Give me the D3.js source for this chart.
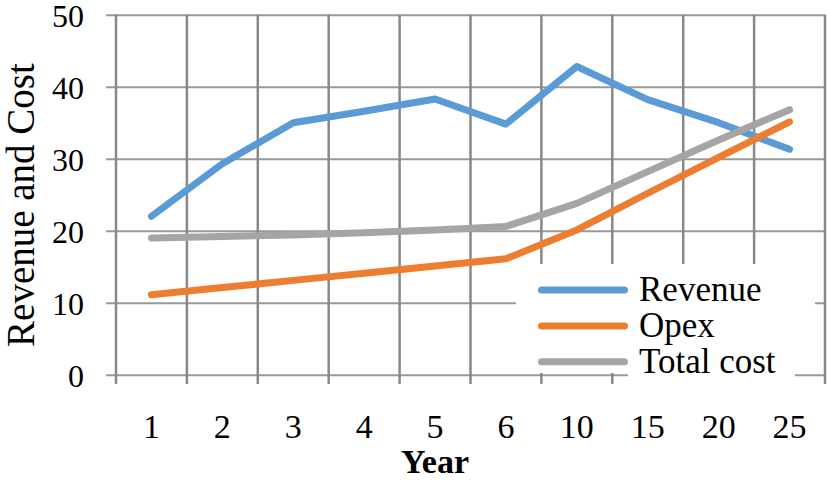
<!DOCTYPE html>
<html>
<head>
<meta charset="utf-8">
<script src="https://d3js.org/d3.v7.min.js"></script>
<style>
body { margin:0; background:#fff; }
text { font-family: "Liberation Serif", "Times New Roman", serif; fill:#000; }
</style>
</head>
<body>
<script>
// data
var years = ["1","2","3","4","5","6","10","15","20","25"];
var revenue = [22.0, 29.3, 35.0, 36.6, 38.3, 34.8, 42.8, 38.2, 35.0, 31.3];
var opex = [11.1, 12.1, 13.1, 14.1, 15.1, 16.1, 20.1, 25.2, 30.2, 35.1];
var totalCost = [19.0, 19.2, 19.4, 19.7, 20.1, 20.6, 23.8, 28.2, 32.6, 36.8];
var yTicks = [0, 10, 20, 30, 40, 50];
var seriesNames = ["Revenue", "Opex", "Total cost"];
var colors = ["#5b9bd5", "#ed7d31", "#a5a5a5"];

var width = 827, height = 487;
var svg = d3.select("body").append("svg")
    .attr("width", width)
    .attr("height", height);

var x = d3.scaleBand().domain(years).range([116, 825]).padding(0);
var y = d3.scaleLinear().domain([0, 50]).range([374.7, 14.7]);

// horizontal grid + y labels
var yAxis = d3.axisLeft(y).tickValues(yTicks).tickSize(-(825 - 106)).tickPadding(22);
var gy = svg.append("g").attr("transform", "translate(106,0)").call(yAxis);
gy.select(".domain").remove();
gy.selectAll(".tick line").attr("stroke", "#999").attr("stroke-width", 2);
gy.selectAll(".tick text")
    .attr("font-size", 32)
    .attr("font-family", "Liberation Serif")
    .attr("fill", "#000")
    .attr("dy", "0.36em");

// vertical grid at band edges
var edges = years.map(function(d) { return x(d); }).concat([x.range()[1]]);
svg.append("g").selectAll("line")
    .data(edges)
    .enter().append("line")
    .attr("x1", function(d) { return d; })
    .attr("x2", function(d) { return d; })
    .attr("y1", y(50))
    .attr("y2", 384)
    .attr("stroke", "#888")
    .attr("stroke-width", 2.5);

// x labels
svg.append("g").selectAll("text")
    .data(years)
    .enter().append("text")
    .attr("x", function(d) { return x(d) + x.bandwidth() / 2; })
    .attr("y", 438)
    .attr("text-anchor", "middle")
    .attr("font-size", 34)
    .text(function(d) { return d; });

// lines
var line = d3.line()
    .x(function(d, i) { return x(years[i]) + x.bandwidth() / 2; })
    .y(function(d) { return y(d); });

[revenue, opex, totalCost].forEach(function(s, k) {
    svg.append("path")
        .datum(s)
        .attr("fill", "none")
        .attr("stroke", colors[k])
        .attr("stroke-width", 7)
        .attr("stroke-linecap", "round")
        .attr("stroke-linejoin", "round")
        .attr("d", line);
});

// legend
var lg = svg.append("g");
lg.append("rect").attr("x", 516).attr("y", 264).attr("width", 299).attr("height", 109).attr("fill", "#fff");
lg.append("rect").attr("x", 628).attr("y", 264).attr("width", 167).attr("height", 122).attr("fill", "#fff");
var ly = [290, 326, 361.7];
seriesNames.forEach(function(n, k) {
    lg.append("line")
        .attr("x1", 541.5).attr("x2", 624.5)
        .attr("y1", ly[k]).attr("y2", ly[k])
        .attr("stroke", colors[k])
        .attr("stroke-width", 7)
        .attr("stroke-linecap", "round");
    lg.append("text")
        .attr("x", 639)
        .attr("y", ly[k] + 11)
        .attr("font-size", 35)
        .text(n);
});

// axis titles
svg.append("text")
    .attr("transform", "translate(34,205) rotate(-90)")
    .attr("text-anchor", "middle")
    .attr("font-size", 39)
    .text("Revenue and Cost");

svg.append("text")
    .attr("x", 435)
    .attr("y", 473)
    .attr("text-anchor", "middle")
    .attr("font-size", 34)
    .attr("font-weight", "bold")
    .text("Year");
</script>
</body>
</html>
